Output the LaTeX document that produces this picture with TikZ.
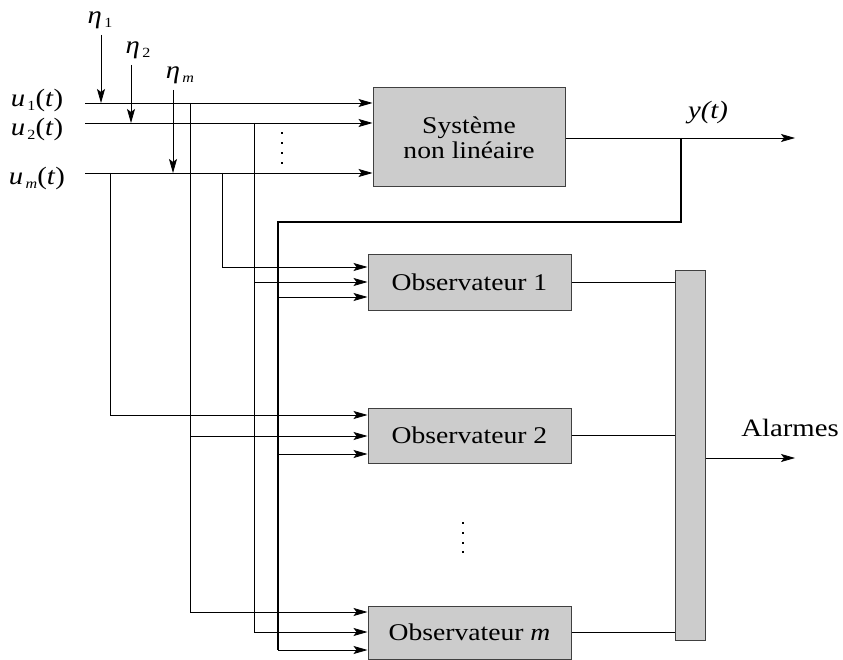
\documentclass[tikz,border=0pt]{standalone}
\usepackage{fontspec}
\setmainfont{Liberation Serif}[FakeStretch=1.15]
\usetikzlibrary{arrows.meta}
\begin{document}
\begin{tikzpicture}[x=1pt,y=-1pt,
  box/.style={draw=black!75, fill=black!20, line width=1pt, inner sep=0pt,
              font=\fontsize{24}{25}\selectfont, align=center},
  arr/.style={-{Stealth[length=14pt,width=8pt,inset=3pt]}},
  ln/.style={line width=0.8pt},
  fb/.style={line width=1.6pt},
  lbl/.style={font=\fontsize{25}{28}\selectfont, inner sep=0pt},
  dotmark/.style={fill=black, minimum size=2.6pt, inner sep=0pt, draw=none}
]
\useasboundingbox (0,0) rectangle (843,660);
\newcommand{\sbs}[1]{\raisebox{-4.5pt}{\fontsize{14}{14}\selectfont\,#1}}

% inputs
\coordinate (u1s) at (85,103);
\coordinate (u2s) at (85,123);
\coordinate (ums) at (85,173);
\coordinate (e1s) at (101,35);
\coordinate (e2s) at (131,65);
\coordinate (ems) at (173,90);
\coordinate (e1e) at (101,103);
\coordinate (e2e) at (131,123);
\coordinate (eme) at (173,173);

% taps
\coordinate (t1) at (190,103);
\coordinate (t1a) at (190,436);
\coordinate (t1b) at (190,612);
\coordinate (t2) at (254,123);
\coordinate (t2a) at (254,282);
\coordinate (t2b) at (254,632);
\coordinate (tm1) at (222,173);
\coordinate (tm1a) at (222,267);
\coordinate (tm2) at (110,173);
\coordinate (tm2a) at (110,415);

% feedback
\coordinate (ys) at (681,138);
\coordinate (yc) at (681,222);
\coordinate (yd) at (278,222);
\coordinate (ya) at (278,297);
\coordinate (yb) at (278,454);
\coordinate (ye) at (278,650);
\coordinate (yend) at (795,138);
\coordinate (aend) at (795,458);

% boxes
\node[box, minimum width=192pt, minimum height=99pt] (sys) at (469,137.5) {Système\\non linéaire};
\node[box, minimum width=203pt, minimum height=55pt] (o1) at (469.5,282.5) {Observateur 1};
\node[box, minimum width=203pt, minimum height=55pt] (o2) at (469.5,435.5) {Observateur 2};
\node[box, minimum width=203pt, minimum height=53pt] (om) at (469.5,632.5) {Observateur \textit{m}};
\node[box, minimum width=30pt, minimum height=369pt] (bar) at (690,455.5) {};

% labels
\node[lbl] (le1) at (100,20) {\textit{η}\sbs{1}};
\node[lbl] (le2) at (138,50) {\textit{η}\sbs{2}};
\node[lbl] (lem) at (180,75) {\textit{η}\sbs{\textit{m}}};
\node[lbl] (lu1) at (37,100) {\textit{u}\sbs{1}(\textit{t})};
\node[lbl] (lu2) at (37,129) {\textit{u}\sbs{2}(\textit{t})};
\node[lbl] (lum) at (37,178) {\textit{u}\sbs{\textit{m}}(\textit{t})};
\node[lbl] (ly) at (708,113) {\textit{y(t)}};
\node[lbl] (la) at (790,428) {Alarmes};

% dots
\foreach \yy [count=\i] in {133,143,153,163} \node[dotmark] (da\i) at (282,\yy) {};
\foreach \yy [count=\i] in {523,533,543,552} \node[dotmark] (db\i) at (463,\yy) {};

% input lines
\draw[ln,arr] (u1s) -- (sys.west |- u1s);
\draw[ln,arr] (u2s) -- (sys.west |- u2s);
\draw[ln,arr] (ums) -- (sys.west |- ums);
\draw[ln,arr] (e1s) -- (e1e);
\draw[ln,arr] (e2s) -- (e2e);
\draw[ln,arr] (ems) -- (eme);

% distribution
\draw[ln] (t1) -- (t1b);
\draw[ln,arr] (t1a) -- (o2.west |- t1a);
\draw[ln,arr] (t1b) -- (om.west |- t1b);
\draw[ln] (t2) -- (t2b);
\draw[ln,arr] (t2a) -- (o1.west |- t2a);
\draw[ln,arr] (t2b) -- (om.west |- t2b);
\draw[ln,arr] (tm1) -- (tm1a) -- (o1.west |- tm1a);
\draw[ln,arr] (tm2) -- (tm2a) -- (o2.west |- tm2a);

% output and feedback
\draw[ln,arr] (sys.east |- ys) -- (yend);
\draw[fb] (ys) -- (yc) -- (yd) -- (ye);
\draw[ln,arr] (ya) -- (o1.west |- ya);
\draw[ln,arr] (yb) -- (o2.west |- yb);
\draw[ln,arr] (ye) -- (om.west |- ye);

% observers to bar
\draw[line width=1.2pt] (o1.east) -- (bar.west |- o1.east);
\draw[line width=1.2pt] (o2.east) -- (bar.west |- o2.east);
\draw[line width=1.2pt] (om.east) -- (bar.west |- om.east);
\draw[ln,arr] (bar.east |- aend) -- (aend);
\end{tikzpicture}
\end{document}
